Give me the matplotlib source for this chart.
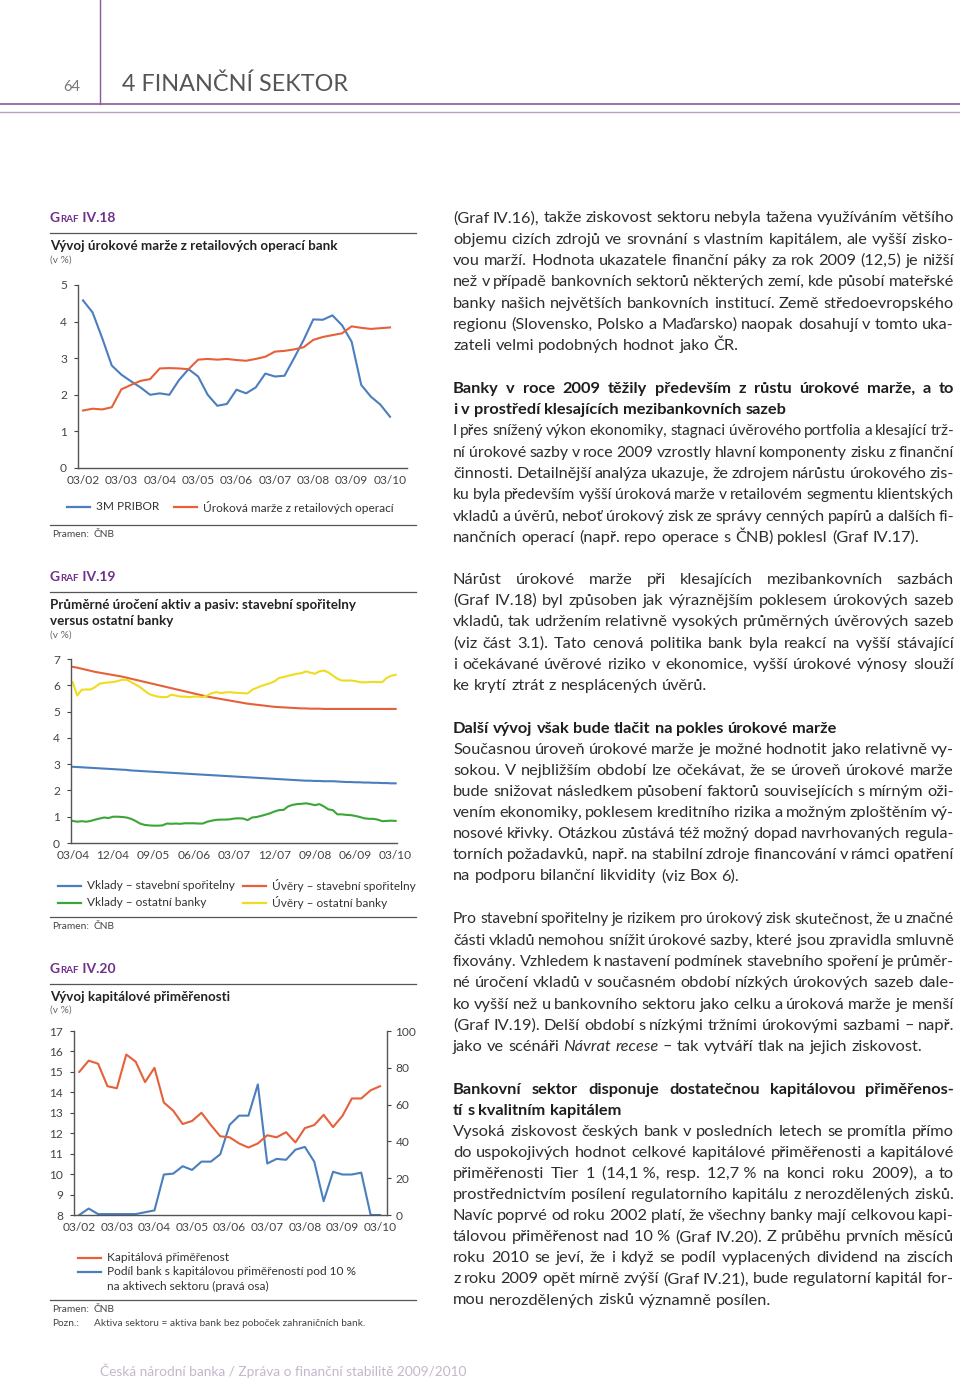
import matplotlib
matplotlib.use("Agg")
import matplotlib.pyplot as plt
from matplotlib.transforms import Affine2D
from matplotlib.lines import Line2D

plt.rcParams['font.family'] = ['Lato', 'DejaVu Sans']

# ── 1. Data ───────────────────────────────────────────────────────────────────
# Graf IV.18 (quarterly, 03/02 – 03/10)
g18_ticks = ["03/02", "03/03", "03/04", "03/05", "03/06", "03/07", "03/08", "03/09", "03/10"]
pribor = [4.58, 4.25, 3.55, 2.80, 2.55, 2.37, 2.20, 2.00, 2.04, 2.00, 2.40,
          2.70, 2.50, 2.00, 1.70, 1.75, 2.14, 2.04, 2.20, 2.58, 2.50, 2.52,
          3.00, 3.50, 4.06, 4.05, 4.17, 3.90, 3.45, 2.27, 1.95, 1.73, 1.40]
marze = [1.57, 1.62, 1.60, 1.66, 2.15, 2.27, 2.38, 2.43, 2.72, 2.73, 2.72,
         2.70, 2.96, 2.98, 2.96, 2.98, 2.95, 2.93, 2.98, 3.04, 3.18, 3.20,
         3.24, 3.30, 3.50, 3.58, 3.63, 3.68, 3.87, 3.83, 3.80, 3.82, 3.84]

# Graf IV.19 (monthly, 03/04 – 03/10)
g19_ticks = ["03/04", "12/04", "09/05", "06/06", "03/07", "12/07", "09/08", "06/09", "03/10"]
vklady_ss = [2.90, 2.89, 2.88, 2.87, 2.86, 2.85, 2.84, 2.83, 2.82, 2.81,
             2.80, 2.79, 2.78, 2.76, 2.75, 2.74, 2.73, 2.72, 2.71, 2.70,
             2.69, 2.68, 2.67, 2.66, 2.65, 2.64, 2.63, 2.62, 2.61, 2.60,
             2.59, 2.58, 2.57, 2.56, 2.55, 2.54, 2.53, 2.52, 2.51, 2.50,
             2.49, 2.48, 2.47, 2.46, 2.45, 2.44, 2.43, 2.42, 2.41, 2.40,
             2.39, 2.38, 2.37, 2.37, 2.36, 2.36, 2.35, 2.35, 2.35, 2.34,
             2.33, 2.32, 2.32, 2.31, 2.31, 2.30, 2.30, 2.29, 2.29, 2.28,
             2.28, 2.27, 2.27]
uvery_ss = [6.70, 6.67, 6.63, 6.59, 6.55, 6.51, 6.48, 6.45, 6.42, 6.39,
            6.36, 6.33, 6.29, 6.25, 6.21, 6.17, 6.13, 6.09, 6.05, 6.01,
            5.97, 5.93, 5.89, 5.85, 5.81, 5.77, 5.73, 5.69, 5.65, 5.61,
            5.57, 5.54, 5.51, 5.48, 5.45, 5.42, 5.39, 5.36, 5.33, 5.30,
            5.28, 5.26, 5.24, 5.22, 5.20, 5.18, 5.17, 5.16, 5.15, 5.14,
            5.13, 5.12, 5.12, 5.11, 5.11, 5.11, 5.10, 5.10, 5.10, 5.10,
            5.10, 5.10, 5.10, 5.10, 5.10, 5.10, 5.10, 5.10, 5.10, 5.10,
            5.10, 5.10, 5.10]
vklady_ob = [0.84, 0.81, 0.83, 0.81, 0.84, 0.89, 0.93, 0.97, 0.95, 1.00,
             1.00, 0.99, 0.97, 0.92, 0.84, 0.74, 0.69, 0.67, 0.66, 0.66,
             0.67, 0.74, 0.73, 0.74, 0.73, 0.75, 0.75, 0.75, 0.74, 0.74,
             0.81, 0.85, 0.88, 0.89, 0.89, 0.90, 0.93, 0.94, 0.93, 0.87,
             0.97, 0.99, 1.03, 1.08, 1.13, 1.20, 1.25, 1.26, 1.39, 1.45,
             1.48, 1.49, 1.51, 1.48, 1.44, 1.48, 1.39, 1.28, 1.25, 1.09,
             1.09, 1.07, 1.06, 1.03, 0.99, 0.94, 0.92, 0.92, 0.89, 0.83,
             0.84, 0.85, 0.84]
uvery_ob = [6.12, 5.61, 5.83, 5.84, 5.84, 5.93, 6.06, 6.09, 6.11, 6.12,
            6.16, 6.21, 6.21, 6.12, 6.03, 5.93, 5.80, 5.67, 5.61, 5.57,
            5.55, 5.55, 5.64, 5.61, 5.57, 5.57, 5.55, 5.57, 5.57, 5.55,
            5.61, 5.70, 5.74, 5.70, 5.73, 5.74, 5.72, 5.71, 5.70, 5.69,
            5.83, 5.90, 5.97, 6.03, 6.08, 6.15, 6.28, 6.31, 6.36, 6.40,
            6.44, 6.46, 6.53, 6.48, 6.44, 6.53, 6.56, 6.49, 6.37, 6.25,
            6.18, 6.18, 6.18, 6.16, 6.12, 6.11, 6.12, 6.13, 6.12, 6.12,
            6.28, 6.36, 6.40]

# Graf IV.20 (quarterly, 03/02 – 03/10)
g20_ticks = g18_ticks
kap_prim = [15.0, 15.55, 15.4, 14.3, 14.2, 15.85, 15.5, 14.5, 15.2, 13.5, 13.1,
            12.45, 12.6, 13.0, 12.4, 11.85, 11.8, 11.5, 11.3, 11.5, 11.9, 11.8,
            12.05, 11.55, 12.25, 12.4, 12.9, 12.3, 12.85, 13.7, 13.7, 14.1, 14.3]
podil_pod10 = [0, 3.5, 0.5, 0.5, 0.5, 0.5, 0.5, 1.5, 2.5, 22, 22.5,
               26.5, 24.5, 29, 29, 33, 49, 54, 54, 71, 28, 30.5,
               30, 35.5, 37, 29, 7.5, 23.5, 22, 22, 23, 0, 0]

# Right column text (line breaks as printed)
P1 = ["(Graf IV.16), takže ziskovost sektoru nebyla tažena využíváním většího",
      "objemu cizích zdrojů ve srovnání s vlastním kapitálem, ale vyšší zisko-",
      "vou marží. Hodnota ukazatele finanční páky za rok 2009 (12,5) je nižší",
      "než v případě bankovních sektorů některých zemí, kde působí mateřské",
      "banky našich největších bankovních institucí. Země středoevropského",
      "regionu (Slovensko, Polsko a Maďarsko) naopak dosahují v tomto uka-",
      "zateli velmi podobných hodnot jako ČR."]
H1 = ["Banky v roce 2009 těžily především z růstu úrokové marže, a to",
      "i v prostředí klesajících mezibankovních sazeb"]
P2 = ["I přes snížený výkon ekonomiky, stagnaci úvěrového portfolia a klesající trž-",
      "ní úrokové sazby v roce 2009 vzrostly hlavní komponenty zisku z finanční",
      "činnosti. Detailnější analýza ukazuje, že zdrojem nárůstu úrokového zis-",
      "ku byla především vyšší úroková marže v retailovém segmentu klientských",
      "vkladů a úvěrů, neboť úrokový zisk ze správy cenných papírů a dalších fi-",
      "nančních operací (např. repo operace s ČNB) poklesl (Graf IV.17)."]
P3 = ["Nárůst úrokové marže při klesajících mezibankovních sazbách",
      "(Graf IV.18) byl způsoben jak výraznějším poklesem úrokových sazeb",
      "vkladů, tak udržením relativně vysokých průměrných úvěrových sazeb",
      "(viz část 3.1). Tato cenová politika bank byla reakcí na vyšší stávající",
      "i očekávané úvěrové riziko v ekonomice, vyšší úrokové výnosy slouží",
      "ke krytí ztrát z nesplácených úvěrů."]
H2 = ["Další vývoj však bude tlačit na pokles úrokové marže"]
P4 = ["Současnou úroveň úrokové marže je možné hodnotit jako relativně vy-",
      "sokou. V nejbližším období lze očekávat, že se úroveň úrokové marže",
      "bude snižovat následkem působení faktorů souvisejících s mírným oži-",
      "vením ekonomiky, poklesem kreditního rizika a možným zploštěním vý-",
      "nosové křivky. Otázkou zůstává též možný dopad navrhovaných regula-",
      "torních požadavků, např. na stabilní zdroje financování v rámci opatření",
      "na podporu bilanční likvidity (viz Box 6)."]
P5 = ["Pro stavební spořitelny je rizikem pro úrokový zisk skutečnost, že u značné",
      "části vkladů nemohou snížit úrokové sazby, které jsou zpravidla smluvně",
      "fixovány. Vzhledem k nastavení podmínek stavebního spoření je průměr-",
      "né úročení vkladů v současném období nízkých úrokových sazeb dale-",
      "ko vyšší než u bankovního sektoru jako celku a úroková marže je menší",
      "(Graf IV.19). Delší období s nízkými tržními úrokovými sazbami – např.",
      "jako ve scénáři _Návrat_ _recese_ – tak vytváří tlak na jejich ziskovost."]
H3 = ["Bankovní sektor disponuje dostatečnou kapitálovou přiměřenos-",
      "tí s kvalitním kapitálem"]
P6 = ["Vysoká ziskovost českých bank v posledních letech se promítla přímo",
      "do uspokojivých hodnot celkové kapitálové přiměřenosti a kapitálové",
      "přiměřenosti Tier 1 (14,1\u00a0%, resp. 12,7\u00a0% na konci roku 2009), a to",
      "prostřednictvím posílení regulatorního kapitálu z nerozdělených zisků.",
      "Navíc poprvé od roku 2002 platí, že všechny banky mají celkovou kapi-",
      "tálovou přiměřenost nad 10\u00a0% (Graf IV.20). Z průběhu prvních měsíců",
      "roku 2010 se jeví, že i když se podíl vyplacených dividend na ziscích",
      "z roku 2009 opět mírně zvýší (Graf IV.21), bude regulatorní kapitál for-",
      "mou nerozdělených zisků významně posílen."]

# ── 2. Figure / helpers ───────────────────────────────────────────────────────
W, H = 960, 1382
BLUE, ORANGE, GREEN, YELLOW = "#4a7ebf", "#e6603a", "#3aa637", "#f0dc1e"
PURPLE = "#702f8a"
AXC, TXC = "#555555", "#444444"
TICK_FS, LEG_FS, TITLE_FS, SRC_FS = 8.6, 8.6, 9.6, 7.3
BODY_FS = 11.8

fig = plt.figure(figsize=(W / 100, H / 100), dpi=100, facecolor="white")
px = Affine2D().scale(1 / W, -1 / H).translate(0, 1) + fig.transFigure
renderer = fig.canvas.get_renderer()


def rect(x0, y0, x1, y1):
    return [x0 / W, 1 - y1 / H, (x1 - x0) / W, (y1 - y0) / H]


def txt(x, y, s, **kw):
    return fig.text(x, y, s, transform=px, **kw)


def hline(x0, x1, y, color="#555555", lw=0.9):
    fig.add_artist(Line2D([x0, x1], [y, y], transform=px, color=color, lw=lw))


def measure(s, **kw):
    t = fig.text(0, 0, s, **kw)
    w = t.get_window_extent(renderer).width
    t.remove()
    return w


def runs(x, y, parts, **kw):
    for s, size in parts:
        t = txt(x, y, s, fontsize=size, **kw)
        x += t.get_window_extent(renderer).width


def graf_label(y, num):
    runs(50, y, [("G", 10), ("RAF", 7), (" IV." + num, 10)],
         color=PURPLE, fontweight="bold", va="baseline")


def style_ax(ax):
    ax.patch.set_alpha(0)
    for s in ["top", "right"]:
        ax.spines[s].set_visible(False)
    for s in ["left", "bottom"]:
        ax.spines[s].set_color(AXC)
        ax.spines[s].set_linewidth(1.0)
    ax.tick_params(axis="y", length=3, width=0.8, pad=5, labelsize=TICK_FS, colors=TXC)
    ax.tick_params(axis="x", length=0, pad=5, labelsize=TICK_FS, colors=TXC)


def legend_item(x, y, color, label):
    fig.add_artist(Line2D([x, x + 23], [y, y], transform=px, color=color, lw=1.6))
    txt(x + 29, y, label, fontsize=LEG_FS, color="#333", va="center")


def source(y, label, value):
    txt(52, y, label, fontsize=SRC_FS, color="#444", va="center")
    txt(94, y, value, fontsize=SRC_FS, color="#444", va="center")


# ── 3. Page header ────────────────────────────────────────────────────────────
fig.add_artist(Line2D([100, 100], [0, 104], transform=px, color="#8a5a9e", lw=1.0))
hline(0, W, 104, color="#8a5a9e", lw=1.2)
hline(0, W, 112, color="#b9a1c6", lw=1.0)
txt(72, 87, "64", fontsize=10.5, color="#777", ha="center", va="center")
txt(122, 84, "4 FINANČNÍ SEKTOR", fontsize=16.8, color="#555", va="center")

# ── 4. Graf IV.18 ─────────────────────────────────────────────────────────────
graf_label(222, "18")
hline(50, 416, 233.5)
txt(50, 246.5, "Vývoj úrokové marže z retailových operací bank", fontsize=TITLE_FS,
    fontweight="bold", color="#222", va="center")
txt(50, 260, "(v %)", fontsize=7.3, color="#666", va="center")

ax1 = fig.add_axes(rect(78, 285, 407, 468))
q1 = list(range(len(pribor)))
ax1.plot(q1, pribor, color=BLUE, lw=1.5)
ax1.plot(q1, marze, color=ORANGE, lw=1.5)
ax1.set_xlim(-0.52, 33.77)
ax1.set_ylim(0, 5)
ax1.set_yticks(range(0, 6))
ax1.set_xticks(q1[::4])
ax1.set_xticklabels(g18_ticks)
style_ax(ax1)

legend_item(67, 507, BLUE, "3M PRIBOR")
legend_item(174, 507, ORANGE, "Úroková marže z retailových operací")
hline(50, 416, 525)
source(535, "Pramen:", "ČNB")

# ── 5. Graf IV.19 ─────────────────────────────────────────────────────────────
graf_label(581, "19")
hline(50, 416, 592.3)
txt(50, 605, "Průměrné úročení aktiv a pasiv: stavební spořitelny", fontsize=TITLE_FS,
    fontweight="bold", color="#222", va="center")
txt(50, 621, "versus ostatní banky", fontsize=TITLE_FS, fontweight="bold", color="#222",
    va="center")
txt(50, 635, "(v %)", fontsize=7.3, color="#666", va="center")

ax2 = fig.add_axes(rect(71, 659, 397, 843))
m2 = list(range(len(vklady_ss)))
ax2.plot(m2, vklady_ss, color=BLUE, lw=1.5)
ax2.plot(m2, uvery_ss, color=ORANGE, lw=1.5)
ax2.plot(m2, vklady_ob, color=GREEN, lw=1.5)
ax2.plot(m2, uvery_ob, color=YELLOW, lw=1.5)
ax2.set_xlim(-0.38, 72.3)
ax2.set_ylim(0, 7)
ax2.set_yticks(range(0, 8))
ax2.set_xticks(m2[::9])
ax2.set_xticklabels(g19_ticks)
style_ax(ax2)

legend_item(58, 886, BLUE, "Vklady – stavební spořitelny")
legend_item(243, 886, ORANGE, "Úvěry – stavební spořitelny")
legend_item(58, 903, GREEN, "Vklady – ostatní banky")
legend_item(243, 903, YELLOW, "Úvěry – ostatní banky")
hline(50, 416, 917)
source(926.5, "Pramen:", "ČNB")

# ── 6. Graf IV.20 ─────────────────────────────────────────────────────────────
graf_label(973, "20")
hline(50, 416, 984.3)
txt(50, 997.5, "Vývoj kapitálové přiměřenosti", fontsize=TITLE_FS, fontweight="bold",
    color="#222", va="center")
txt(50, 1010, "(v %)", fontsize=7.3, color="#666", va="center")

ax3 = fig.add_axes(rect(74, 1031, 387, 1215))
q3 = list(range(len(kap_prim)))
ax3.plot(q3, kap_prim, color=ORANGE, lw=1.5, zorder=3)
ax3.set_xlim(-0.56, 32.74)
ax3.set_ylim(8, 17)
ax3.set_yticks(range(8, 18))
ax3.set_xticks(q3[::4])
ax3.set_xticklabels(g20_ticks)
style_ax(ax3)

ax3r = ax3.twinx()
ax3r.plot(q3, podil_pod10, color=BLUE, lw=1.5)
ax3r.set_ylim(0, 100)
ax3r.set_yticks(range(0, 101, 20))
ax3r.patch.set_alpha(0)
for s in ["top", "left", "bottom"]:
    ax3r.spines[s].set_visible(False)
ax3r.spines["right"].set_color(AXC)
ax3r.spines["right"].set_linewidth(1.0)
ax3r.tick_params(axis="y", length=3, width=0.8, pad=3, labelsize=TICK_FS, colors=TXC)
ax3.set_zorder(ax3r.get_zorder() + 1)

legend_item(78, 1258, ORANGE, "Kapitálová přiměřenost")
legend_item(78, 1272, BLUE, "Podíl bank s kapitálovou přiměřeností pod 10 %")
txt(107, 1286.5, "na aktivech sektoru (pravá osa)", fontsize=LEG_FS, color="#333",
    va="center")
hline(50, 416, 1300)
source(1310, "Pramen:", "ČNB")
source(1323.5, "Pozn.:", "Aktiva sektoru = aktiva bank bez poboček zahraničních bank.")

# ── 7. Right column, justified text ───────────────────────────────────────────
X0, X1 = 453, 954
blocks = [(218.0, 21.3, P1, "normal"), (388.6, 21.3, H1, "bold"),
          (431.0, 21.3, P2, "normal"), (579.3, 21.3, P3, "normal"),
          (728.3, 21.3, H2, "bold"), (749.4, 21.1, P4, "normal"),
          (919.0, 21.3, P5, "normal"), (1089.3, 21.3, H3, "bold"),
          (1131.7, 21.05, P6, "normal")]


def split_words(line):
    out = []
    for w in line.split(" "):
        if w.startswith("_") and w.endswith("_"):
            out.append((w[1:-1], "italic"))
        else:
            out.append((w, "normal"))
    return out


def space_w(size, weight):
    return (measure("a a", fontsize=size, fontweight=weight)
            - measure("aa", fontsize=size, fontweight=weight))


for y0, pitch, lines, weight in blocks:
    color = "#1e1e1e" if weight == "bold" else "#2e2e2e"
    for i, line in enumerate(lines):
        y = y0 + i * pitch + 4.4
        words = split_words(line)
        last = i == len(lines) - 1
        size = BODY_FS
        widths = [measure(w, fontsize=size, fontweight=weight, fontstyle=st) for w, st in words]
        sp = space_w(size, weight)
        # squeeze a too-long line: spaces down to 0.75, then shrink the type
        n_gap = max(len(words) - 1, 1)
        need = sum(widths) + 0.75 * sp * (len(words) - 1)
        if need > X1 - X0:
            size = size * (X1 - X0) / need
            widths = [measure(w, fontsize=size, fontweight=weight, fontstyle=st)
                      for w, st in words]
        if last:
            gap = min(sp, (X1 - X0 - sum(widths)) / n_gap)
        else:
            gap = (X1 - X0 - sum(widths)) / n_gap
        x = X0
        for (w, st), wd in zip(words, widths):
            txt(x, y, w, fontsize=size, fontweight=weight, fontstyle=st,
                color=color, va="baseline")
            x += wd + gap

# ── 8. Footer ─────────────────────────────────────────────────────────────────
txt(100, 1371, "Česká národní banka / Zpráva o finanční stabilitě 2009/2010",
    fontsize=9.8, color="#c4b6cc", va="center")

fig.savefig("out.png", dpi=100)
